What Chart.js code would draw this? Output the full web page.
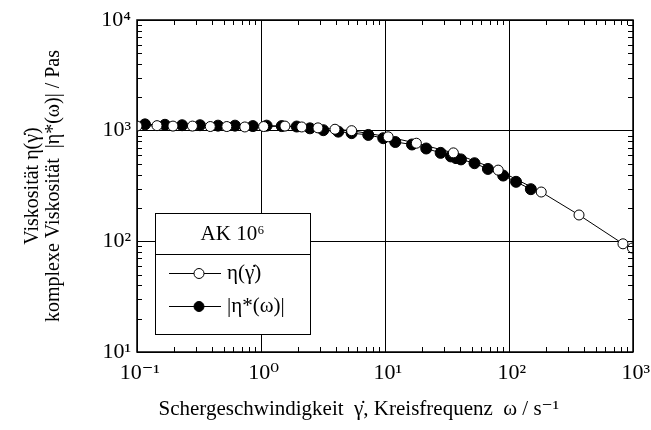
<!DOCTYPE html>
<html>
<head>
<meta charset="utf-8">
<script src="https://cdn.jsdelivr.net/npm/chart.js@4"></script>
<style>
  html, body { margin: 0; padding: 0; background: #fff; }
  #wrap { width: 651px; height: 430px; }
</style>
</head>
<body>
<div id="wrap"><canvas id="viskositaet"></canvas></div>
<script>
// Daten
const shearRate = [0.1, 0.145, 0.195, 0.28, 0.39, 0.53, 0.74, 1.05, 1.56, 2.13, 2.88, 3.95, 5.38, 10.6, 17.9, 35.6, 81.8, 182, 367, 830, 990];
const viscosity = [1100, 1110, 1100, 1100, 1090, 1090, 1080, 1090, 1100, 1080, 1060, 1030, 1000, 880, 770, 630, 440, 279, 173, 95, 87];

const angularFreq = [0.116, 0.168, 0.231, 0.322, 0.45, 0.617, 0.86, 1.11, 1.47, 1.94, 2.48, 3.18, 4.2, 5.38, 7.33, 9.68, 12.1, 16.5, 21.5, 28.1, 34, 37.4, 41, 52.7, 67.6, 89.8, 114, 150];
const complexViscosity = [1140, 1130, 1120, 1120, 1110, 1110, 1100, 1110, 1100, 1090, 1050, 1010, 980, 950, 915, 855, 790, 750, 690, 630, 585, 565, 550, 508, 451, 393, 345, 296];

const xDecades = [0.1, 1, 10, 100, 1000];
const yDecades = [10, 100, 1000, 10000];
const decadeLabels = {'-1': '10⁻¹', '0': '10⁰', '1': '10¹', '2': '10²', '3': '10³', '4': '10⁴'};

const legendTitle = 'AK 10⁶';
const seriesNames = ['η(γ̇)', '|η*(ω)|'];

const serif = "'Liberation Serif', 'DejaVu Serif', serif";

function toPoints(xs, ys) {
  return xs.map((x, i) => ({x: x, y: ys[i]}));
}
function decadeLabel(v) {
  return decadeLabels[String(Math.round(Math.log10(v)))] || '';
}

// kleine Teilstriche innen, Rahmen, Legende
const frameAndLegend = {
  id: 'frameAndLegend',
  afterDatasetsDraw(chart) {
    const ctx = chart.ctx;
    const a = chart.chartArea;
    const xs = chart.scales.x, ys = chart.scales.y;
    ctx.save();
    ctx.strokeStyle = '#000';
    ctx.lineWidth = 1;
    ctx.beginPath();
    for (let d = 0.1; d < 1000; d *= 10) {
      for (let m = 2; m <= 9; m++) {
        const px = Math.round(xs.getPixelForValue(d * m)) + 0.5;
        ctx.moveTo(px, a.bottom); ctx.lineTo(px, a.bottom - 5);
        ctx.moveTo(px, a.top); ctx.lineTo(px, a.top + 5);
      }
    }
    for (let d = 10; d < 10000; d *= 10) {
      for (let m = 2; m <= 9; m++) {
        const py = Math.round(ys.getPixelForValue(d * m)) + 0.5;
        ctx.moveTo(a.left, py); ctx.lineTo(a.left + 5, py);
        ctx.moveTo(a.right, py); ctx.lineTo(a.right - 5, py);
      }
    }
    ctx.stroke();
    ctx.lineWidth = 1.5;
    ctx.strokeRect(a.left, a.top, a.right - a.left, a.bottom - a.top);

    // Legende
    const lx = 155, ly = 213, lw = 155, lh = 121;
    ctx.fillStyle = '#fff';
    ctx.fillRect(lx, ly, lw, lh);
    ctx.lineWidth = 1;
    ctx.strokeRect(lx + 0.5, ly + 0.5, lw, lh);
    ctx.beginPath();
    ctx.moveTo(lx, ly + 41.5); ctx.lineTo(lx + lw, ly + 41.5);
    ctx.stroke();
    ctx.fillStyle = '#000';
    ctx.font = '21px ' + serif;
    ctx.textAlign = 'center';
    ctx.textBaseline = 'middle';
    ctx.fillText(legendTitle, lx + lw / 2, ly + 21);
    ctx.textAlign = 'left';
    const rows = [ly + 60, ly + 93];
    rows.forEach((ry, i) => {
      ctx.beginPath();
      ctx.moveTo(lx + 14, ry + 0.5); ctx.lineTo(lx + 66, ry + 0.5);
      ctx.stroke();
      ctx.beginPath();
      ctx.arc(lx + 44, ry + 0.5, 5, 0, Math.PI * 2);
      ctx.fillStyle = i === 0 ? '#fff' : '#000';
      ctx.fill();
      ctx.stroke();
      ctx.fillStyle = '#000';
      ctx.fillText(seriesNames[i], lx + 72, ry);
    });
    ctx.restore();
  }
};

new Chart(document.getElementById('viskositaet'), {
  type: 'scatter',
  data: {
    datasets: [{
      label: seriesNames[0],
      data: toPoints(shearRate, viscosity),
      showLine: true,
      borderColor: '#000',
      borderWidth: 1,
      pointRadius: 5,
      pointBackgroundColor: '#fff',
      pointBorderColor: '#000',
      pointBorderWidth: 1
    }, {
      label: seriesNames[1],
      data: toPoints(angularFreq, complexViscosity),
      showLine: true,
      borderColor: '#000',
      borderWidth: 1,
      pointRadius: 5.5,
      pointBackgroundColor: '#000',
      pointBorderColor: '#000',
      pointBorderWidth: 1
    }]
  },
  options: {
    responsive: true,
    maintainAspectRatio: false,
    animation: false,
    layout: { padding: { top: 20, right: 18, bottom: 0, left: 0 } },
    plugins: {
      legend: { display: false },
      tooltip: { enabled: false }
    },
    scales: {
      x: {
        type: 'logarithmic',
        min: 0.1,
        max: 1000,
        afterBuildTicks: s => { s.ticks = xDecades.map(v => ({value: v})); },
        afterFit: s => { s.height = 78; s.paddingLeft = 0; s.paddingRight = 0; },
        grid: { color: '#000', lineWidth: 1, drawTicks: false },
        border: { display: false },
        ticks: {
          callback: v => ' ' + decadeLabel(v),
          color: '#000',
          font: { family: serif, size: 22 },
          padding: 8,
          maxRotation: 0,
          autoSkip: false
        },
        title: {
          display: true,
          text: 'Schergeschwindigkeit  γ̇, Kreisfrequenz  ω / s⁻¹          ',
          color: '#000',
          font: { family: serif, size: 21 },
          padding: { top: 0, bottom: 8 }
        }
      },
      y: {
        type: 'logarithmic',
        min: 10,
        max: 10000,
        afterBuildTicks: s => { s.ticks = yDecades.map(v => ({value: v})); },
        afterFit: s => { s.width = 137; s.paddingTop = 0; s.paddingBottom = 0; },
        grid: { color: '#000', lineWidth: 1, drawTicks: false },
        border: { display: false },
        ticks: {
          callback: v => decadeLabel(v),
          color: '#000',
          font: { family: serif, size: 22 },
          padding: 6,
          autoSkip: false
        },
        title: {
          display: true,
          text: ['Viskosität η(γ̇)', 'komplexe Viskosität  |η*(ω)| / Pas'],
          color: '#000',
          font: { family: serif, size: 20, lineHeight: 1.05 },
          padding: { top: 22, bottom: 0 }
        }
      }
    }
  },
  plugins: [frameAndLegend]
});
</script>
</body>
</html>
